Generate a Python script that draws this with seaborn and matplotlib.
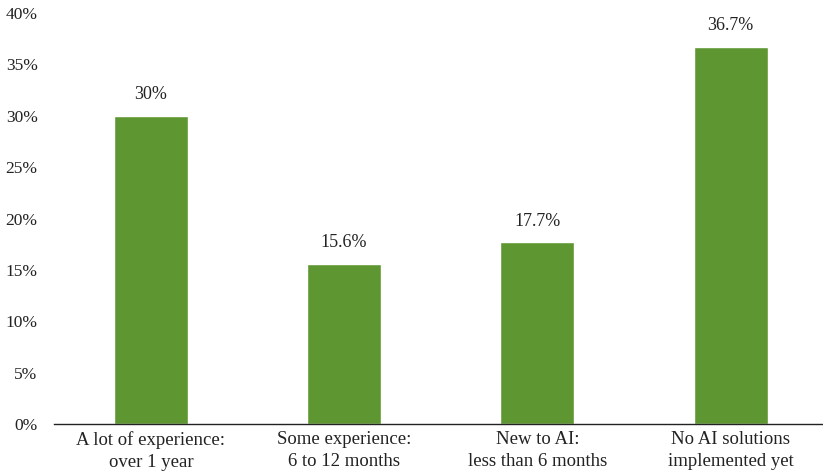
import matplotlib
matplotlib.use("Agg")
import matplotlib.pyplot as plt
import seaborn as sns
import pandas as pd

categories = ["A lot of experience:\nover 1 year", "Some experience:\n6 to 12 months",
              "New to AI:\nless than 6 months", "No AI solutions\nimplemented yet"]
values = [30.0, 15.6, 17.7, 36.7]
value_labels = ["30%", "15.6%", "17.7%", "36.7%"]
y_ticks = [0, 5, 10, 15, 20, 25, 30, 35, 40]

sns.set_theme(style="white")
plt.rcParams['font.family'] = ['Liberation Serif', 'DejaVu Serif']

df = pd.DataFrame({"cat": categories, "val": values})
fig = plt.figure(figsize=(8.23, 4.73), dpi=100)
ax = fig.add_axes([0.066, 0.1036, 0.939, 0.8689])
sns.barplot(data=df, x="cat", y="val", color="#5E9732", width=0.383, saturation=1, ax=ax)
for p, lab in zip(ax.patches, value_labels):
    ax.annotate(lab, (p.get_x() + p.get_width() / 2, p.get_height()),
                xytext=(0, 9), textcoords="offset points", ha="center", va="bottom",
                fontsize=13, color="#222222")
ax.set_ylim(0, 40)
ax.set_yticks(y_ticks)
ax.set_yticklabels([f"{t}%" for t in y_ticks], fontsize=12.5, color="#222222")
for lbl in ax.get_xticklabels():
    lbl.set_fontsize(13.5)
    lbl.set_linespacing(1.4)
    lbl.set_color("#222222")
ax.tick_params(axis="x", pad=5, length=0)
ax.tick_params(axis="y", length=0, pad=12)
ax.set_xlabel("")
ax.set_ylabel("")
for s in ["top", "right", "left"]:
    ax.spines[s].set_visible(False)
ax.spines["bottom"].set_color("#222222")
ax.spines["bottom"].set_linewidth(1.0)
ax.set_xlim(-0.5, 3.5)
fig.savefig("out.png", dpi=100)
